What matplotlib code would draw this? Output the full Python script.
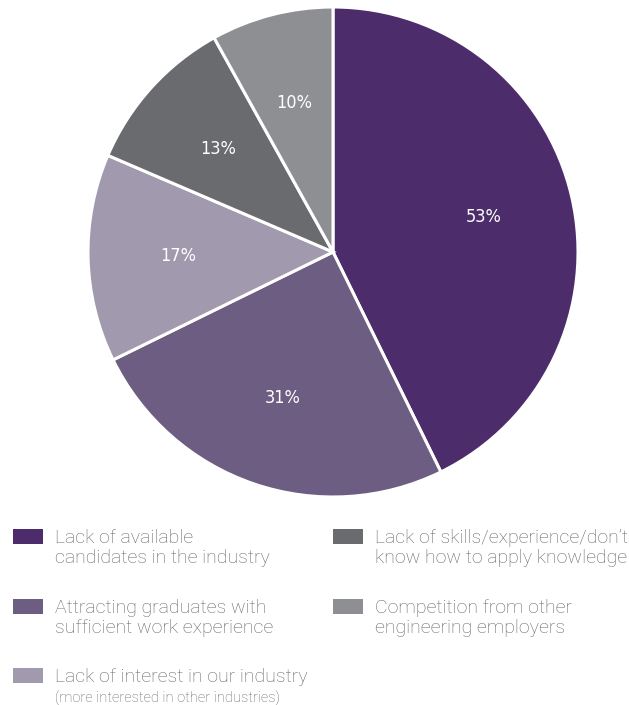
import matplotlib
matplotlib.use("Agg")
import matplotlib.pyplot as plt
from matplotlib.patches import Rectangle
from matplotlib import font_manager as fm

# ---- data ----
categories = [
    "Lack of available\ncandidates in the industry",
    "Attracting graduates with\nsufficient work experience",
    "Lack of interest in our industry",
    "Lack of skills/experience/don\u2019t\nknow how to apply knowledge",
    "Competition from other\nengineering employers",
]
sub_notes = ["", "", "(more interested in other industries)", "", ""]
values = [53, 31, 17, 13, 10]
pct_labels = ["53%", "31%", "17%", "13%", "10%"]
colors = ["#4c2c6a", "#6d5d82", "#a199ad", "#6a6b6f", "#8e8f93"]

names = {f.name for f in fm.fontManager.ttflist}
legend_font = "Roboto" if "Roboto" in names else "DejaVu Sans"

W, H, DPI = 629, 705, 100
fig = plt.figure(figsize=(W / DPI, H / DPI), dpi=DPI)

# pie axes: centre (333, 252) px, radius 245 px
cx, cy, r = 333, 252, 245
ax = fig.add_axes([(cx - r) / W, 1 - (cy + r) / H, 2 * r / W, 2 * r / H])
wedges, texts = ax.pie(
    values, colors=colors, startangle=90, counterclock=False, radius=1,
    labels=pct_labels, labeldistance=0.63,
    wedgeprops=dict(edgecolor="white", linewidth=2.2),
    textprops=dict(color="white", fontsize=13, family="DejaVu Sans",
                   stretch="condensed", weight="light"),
)
for t in texts:
    t.set_horizontalalignment("center")
    t.set_verticalalignment("center")
ax.set_xlim(-1, 1)
ax.set_ylim(-1, 1)
ax.set_aspect("equal")
ax.axis("off")

# ---- legend (manual) ----
col_x = [13, 333]
row_y = [529, 599, 668]
order = [(0, 0), (0, 1), (0, 2), (1, 0), (1, 1)]
txt_color = "#666666"
for i, (c, rr) in enumerate(order):
    x0, y0 = col_x[c], row_y[rr]
    fig.add_artist(Rectangle((x0 / W, 1 - (y0 + 15) / H), 30 / W, 15 / H,
                             transform=fig.transFigure, facecolor=colors[i],
                             edgecolor="none"))
    fig.text((x0 + 42) / W, 1 - (y0 + 0) / H, categories[i], ha="left", va="top",
             fontsize=14, color=txt_color, family=legend_font, weight="light",
             linespacing=1.12)
    if sub_notes[i]:
        fig.text((x0 + 42) / W, 1 - (y0 + 23) / H, sub_notes[i], ha="left", va="top",
                 fontsize=10.5, color=txt_color, family=legend_font, weight="light")

fig.savefig("out.png", dpi=DPI, facecolor="white")
